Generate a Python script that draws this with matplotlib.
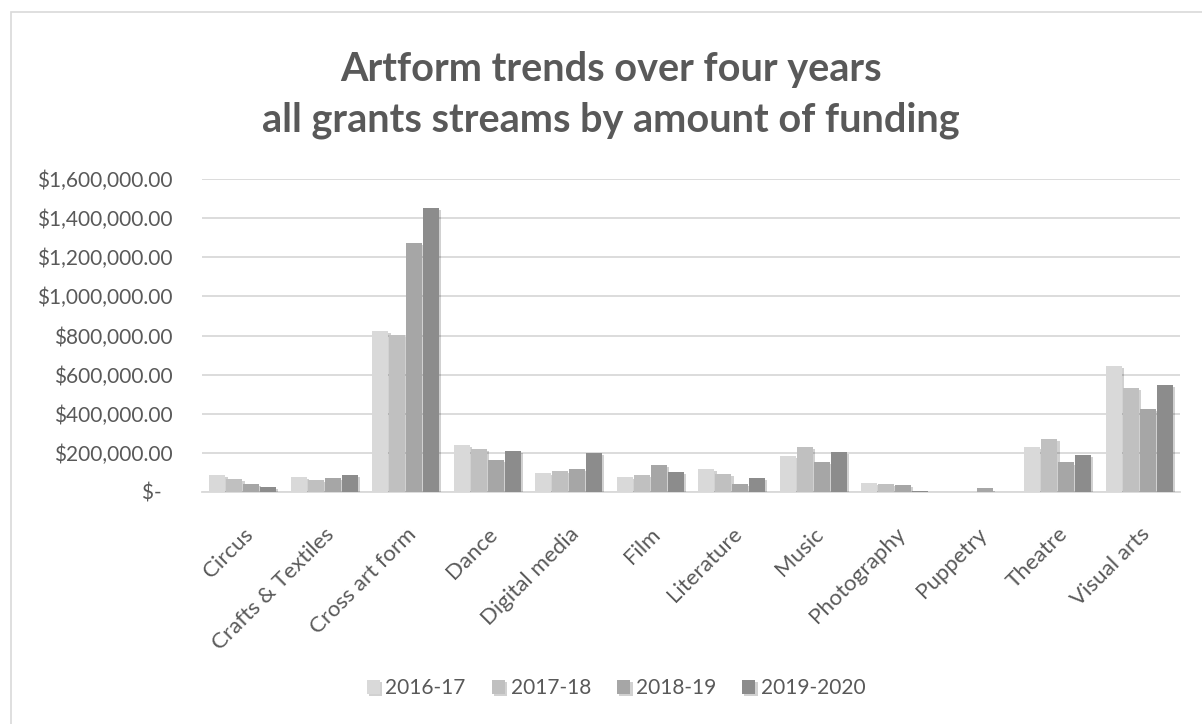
import numpy as np
import matplotlib
matplotlib.use("Agg")
import matplotlib.pyplot as plt
import matplotlib.patheffects as pe
from matplotlib.patches import Rectangle
from matplotlib.ticker import FuncFormatter

plt.rcParams['font.family'] = ['Lato', 'DejaVu Sans']

# Data
artforms = ["Circus", "Crafts & Textiles", "Cross art form", "Dance", "Digital media",
            "Film", "Literature", "Music", "Photography", "Puppetry", "Theatre", "Visual arts"]
years = ["2016-17", "2017-18", "2018-19", "2019-2020"]
funding_2016_17 = [87000, 77000, 825000, 240000, 99000, 77000, 117000, 185000, 48000, 0, 231000, 646000]
funding_2017_18 = [66000, 61000, 804000, 219000, 107000, 87000, 92000, 230000, 43000, 0, 273000, 532000]
funding_2018_19 = [42000, 71000, 1273000, 163000, 117000, 138000, 42000, 153000, 38000, 18000, 151000, 426000]
funding_2019_20 = [27000, 87000, 1452000, 209000, 199000, 102000, 71000, 204000, 3000, 0, 191000, 549000]
yticks = [0, 200000, 400000, 600000, 800000, 1000000, 1200000, 1400000, 1600000]

series = [funding_2016_17, funding_2017_18, funding_2018_19, funding_2019_20]
colors = ["#d9d9d9", "#c0c0c0", "#a6a6a6", "#8c8c8c"]
text_col = "#595959"

fig = plt.figure(figsize=(12.02, 7.24), dpi=100)
ax = fig.add_axes([202 / 1202, 1 - 492 / 724, 978 / 1202, 313 / 724])

# chart border (only top and left visible)
fig.patches.append(Rectangle((11 / 1202, -0.2), 1.2, 1.2 - 12 / 724, transform=fig.transFigure,
                             fill=False, edgecolor="#d9d9d9", linewidth=1.2))

x = np.arange(len(artforms))
width = 0.2
shadow = [pe.SimplePatchShadow(offset=(1.5, -1.5), shadow_rgbFace="#000000", alpha=0.18), pe.Normal()]
for i, (vals, year) in enumerate(zip(series, years)):
    bars = ax.bar(x + (i - 1.5) * width * 1.04, vals, width, color=colors[i], label=year, zorder=3)
    for b in bars:
        b.set_path_effects(shadow)

ax.set_xlim(-0.5, len(artforms) - 0.5)
ax.set_ylim(0, 1600000)
ax.set_yticks(yticks)


def money(v, pos):
    if v == 0:
        return "$-  "
    return "${:,.2f}".format(v)


ax.yaxis.set_major_formatter(FuncFormatter(money))
ax.grid(axis="y", color="#d9d9d9", linewidth=1.3, zorder=0)
for s in ["top", "right", "left"]:
    ax.spines[s].set_visible(False)
ax.spines["bottom"].set_color("#d9d9d9")
ax.spines["bottom"].set_linewidth(1.3)
ax.tick_params(axis="both", length=0, colors=text_col)
ax.tick_params(axis="y", pad=21, labelsize=15)
ax.set_xticks(x)
ax.set_xticklabels(artforms, rotation=45, ha="right", rotation_mode="anchor", color=text_col)
ax.tick_params(axis="x", pad=23, labelsize=16)

fig.text(611 / 1202, 1 - 95 / 724, "Artform trends over four years\nall grants streams by amount of funding",
         ha="center", va="center", fontsize=28.5, fontweight="bold", color=text_col, linespacing=1.45)

leg = fig.legend(loc="center", bbox_to_anchor=(616 / 1202, 1 - 688 / 724), ncol=4, frameon=False,
                 fontsize=15, handlelength=0.65, handleheight=0.65, handletextpad=0.25, columnspacing=1.25)
for t in leg.get_texts():
    t.set_color(text_col)

fig.savefig("out.png", dpi=100)
